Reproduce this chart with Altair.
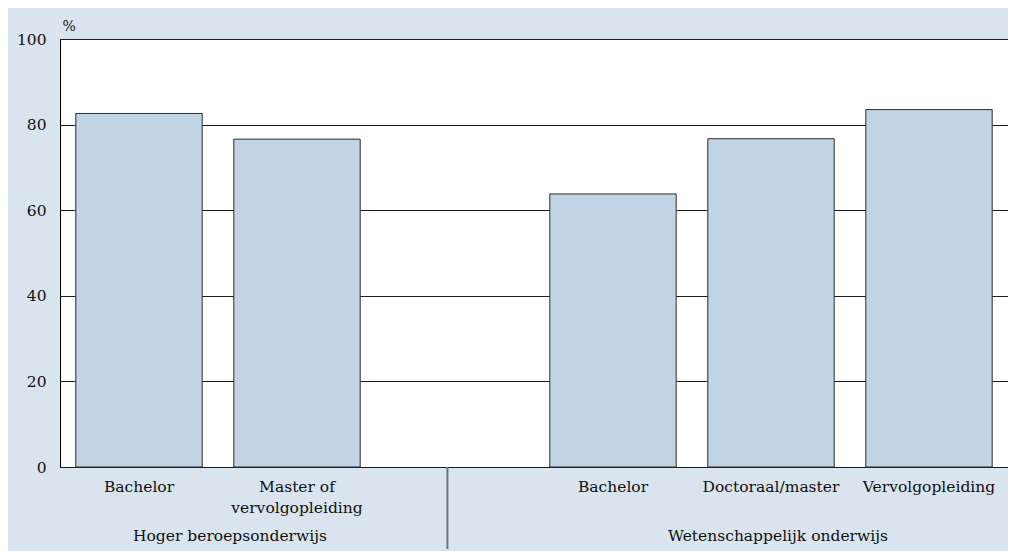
import altair as alt
import pandas as pd

# ---- data ----
slot_keys = ["hbo_bachelor", "hbo_master", "gap", "wo_bachelor", "wo_doctoraal", "wo_vervolg"]
bar_keys = ["hbo_bachelor", "hbo_master", "wo_bachelor", "wo_doctoraal", "wo_vervolg"]
bar_labels = ["Bachelor", "Master of\nvervolgopleiding", "Bachelor", "Doctoraal/master", "Vervolgopleiding"]
bar_groups = ["Hoger beroepsonderwijs", "Hoger beroepsonderwijs",
              "Wetenschappelijk onderwijs", "Wetenschappelijk onderwijs", "Wetenschappelijk onderwijs"]
values = [82.6, 76.6, 63.8, 76.7, 83.5]
y_ticks = [0, 20, 40, 60, 80, 100]
group_names = ["Hoger beroepsonderwijs", "Wetenschappelijk onderwijs"]
group_anchor = ["hbo_master", "wo_doctoraal"]

df = pd.DataFrame({"key": bar_keys, "label": bar_labels, "group": bar_groups, "value": values})
df_groups = pd.DataFrame({"group": group_names, "key": group_anchor})
df_sep = pd.DataFrame({"key": ["gap"]})

FONT = "DejaVu Serif"
BG = "#d9e4ee"
FS = 15.5

x_scale = alt.Scale(domain=slot_keys, paddingInner=0.2, paddingOuter=0.1)
x_enc = alt.X("key:N", scale=x_scale, axis=None)

bars = alt.Chart(df).mark_bar(fill="#c0d4e4", stroke="#2b2b2b", strokeWidth=1).encode(
    x=x_enc,
    y=alt.Y(
        "value:Q",
        scale=alt.Scale(domain=[0, 100], nice=False),
        axis=alt.Axis(
            values=y_ticks,
            grid=True,
            gridColor="#1e1e1e",
            gridWidth=1,
            ticks=False,
            labelPadding=14,
            labelFont=FONT,
            labelFontSize=FS,
            labelColor="#111",
            domainColor="#000",
            domainWidth=1,
            title="%",
            titleAngle=0,
            titleX=2,
            titleY=-13,
            titleAlign="left",
            titleBaseline="middle",
            titleFont=FONT,
            titleFontSize=14,
            titleFontWeight="normal",
            titleColor="#111",
        ),
    ),
)

cat_labels = alt.Chart(df).mark_text(
    font=FONT, fontSize=FS, color="#111", baseline="top", align="center",
    lineBreak="\n", lineHeight=21,
).encode(x=x_enc, y=alt.value(441), text="label:N")

hbo_label = alt.Chart(df_groups).transform_filter(
    alt.datum.key == "hbo_master"
).mark_text(font=FONT, fontSize=FS, color="#111", baseline="middle", align="center", dx=-67).encode(
    x=x_enc, y=alt.value(497), text="group:N"
)

wo_label = alt.Chart(df_groups).transform_filter(
    alt.datum.key == "wo_doctoraal"
).mark_text(font=FONT, fontSize=FS, color="#111", baseline="middle", align="center", dx=7).encode(
    x=x_enc, y=alt.value(497), text="group:N"
)

separator = alt.Chart(df_sep).mark_rule(color="#6e7780", strokeWidth=2).encode(
    x=alt.X("key:N", scale=x_scale, axis=None, bandPosition=0.44),
    y=alt.value(428),
    y2=alt.value(510),
)

chart = (
    alt.layer(bars, cat_labels, hbo_label, wo_label, separator)
    .properties(
        width=948,
        height=428,
        background=BG,
        padding={"left": 52, "top": 31, "right": 0, "bottom": 84},
        autosize=alt.AutoSizeParams(type="none"),
    )
    .configure_view(fill="white", stroke="#2a2a2a", strokeWidth=1)
)

chart.save("out.html", embed_options={"renderer": "svg", "actions": False})
